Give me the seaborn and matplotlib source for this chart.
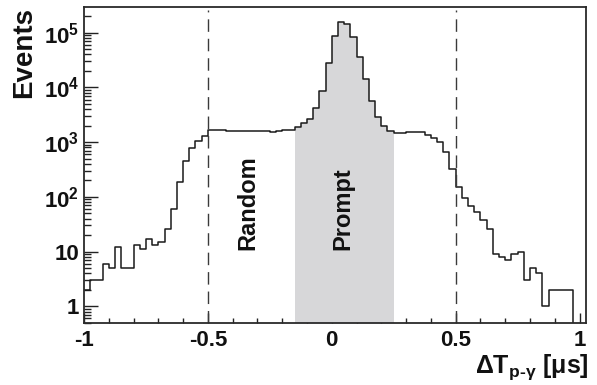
import numpy as np
import pandas as pd
import matplotlib
matplotlib.use("Agg")
import matplotlib.pyplot as plt
import seaborn as sns
from matplotlib.ticker import FixedLocator, FixedFormatter, MultipleLocator, LogLocator, NullFormatter

# ---------------- data ----------------
bin_edges = [round(v, 3) for v in np.linspace(-1.0, 1.0, 81)]   # 80 bins of 0.025 us
counts = [
    2, 3, 3, 6, 5, 12, 5, 5, 13, 11,
    17, 13, 15, 26, 59, 190, 460, 780, 1070, 1320,
    1660, 1640, 1680, 1610, 1570, 1590, 1590, 1610, 1570, 1630,
    1560, 1610, 1650, 1680, 1850, 2190, 2630, 4170, 8630, 27700,
    88000, 160000, 145000, 82000, 36000, 14300, 5740, 2860, 1990, 1610,
    1480, 1490, 1500, 1500, 1500, 1360, 1210, 1010, 650, 322,
    150, 95, 67, 52, 38, 26, 9, 8, 7, 9,
    10, 3, 5, 4, 1, 2, 2, 2, 2, 0,
]
prompt_window = [-0.15, 0.25]
cut_lines = [-0.5, 0.5]
x_ticks = [-1, -0.5, 0, 0.5, 1]
x_tick_labels = ["-1", "-0.5", "0", "0.5", "1"]
y_ticks = [1, 10, 100, 1000, 10000, 100000]
y_tick_labels = ["1", "10", r"$\mathregular{10^{2}}$", r"$\mathregular{10^{3}}$",
                 r"$\mathregular{10^{4}}$", r"$\mathregular{10^{5}}$"]
region_labels = ["Random", "Prompt"]
region_label_x = [-0.34, 0.045]
x_label = r"ΔT$_{\mathregular{p‐γ}}$ [μs]"
y_label = "Events"

# ---------------- style ----------------
sns.set_theme(style="ticks")
plt.rcParams["font.family"] = ["Liberation Sans", "DejaVu Sans"]
plt.rcParams.update({
    "font.weight": "bold",
    "axes.unicode_minus": False,
    "mathtext.fontset": "custom",
    "mathtext.rm": "Liberation Sans:bold",
    "mathtext.bf": "Liberation Sans:bold",
    "mathtext.it": "Liberation Sans:bold",
    "mathtext.sf": "Liberation Sans:bold",
})

edges_arr = np.array(bin_edges)
centers = (edges_arr[:-1] + edges_arr[1:]) / 2
df = pd.DataFrame({"dt": centers, "n": counts})
in_prompt = (centers > prompt_window[0]) & (centers < prompt_window[1])
prompt_edges = [e for e in bin_edges if prompt_window[0] - 1e-9 <= e <= prompt_window[1] + 1e-9]

fig = plt.figure(figsize=(5.97, 3.85), dpi=100)
ax = fig.add_axes([84 / 597, 1 - 322.7 / 385, (585.7 - 84) / 597, (322.7 - 7) / 385])

sns.histplot(data=df[in_prompt], x="dt", weights="n", bins=prompt_edges,
             element="step", fill=True, color="#d7d7d9", alpha=1, linewidth=0, ax=ax)
sns.histplot(data=df, x="dt", weights="n", bins=bin_edges,
             element="step", fill=False, color="#1a1a1a", linewidth=1.1, ax=ax)
ax.set_yscale("log")
ax.set_xlim(-1.0, 1.025)
ax.set_ylim(0.5, 2.95e5)

for xc in cut_lines:
    ax.axvline(xc, ymin=0, ymax=0.99, color="#3a3a3a", lw=1.0, dashes=(9, 5))

for lbl, xl in zip(region_labels, region_label_x):
    ax.text(xl, 10.8, lbl, rotation=90, ha="center", va="bottom",
            fontsize=17, fontweight="bold", color="#111111")

# ticks
ax.xaxis.set_major_locator(FixedLocator(x_ticks))
ax.xaxis.set_major_formatter(FixedFormatter(x_tick_labels))
ax.xaxis.set_minor_locator(MultipleLocator(0.1))
ax.yaxis.set_major_locator(FixedLocator(y_ticks))
ax.yaxis.set_major_formatter(FixedFormatter(y_tick_labels))
ax.yaxis.set_minor_locator(LogLocator(base=10, subs=np.arange(2, 10), numticks=20))
ax.yaxis.set_minor_formatter(NullFormatter())

ax.tick_params(axis="both", which="both", direction="in", color="#222222", width=1.0,
               labelsize=16, labelcolor="#111111")
ax.tick_params(axis="y", which="major", length=10, pad=3.5)
ax.tick_params(axis="y", which="minor", length=5)
ax.tick_params(axis="x", which="major", length=7, pad=5.5)
ax.tick_params(axis="x", which="minor", length=3.6)
for t in ax.get_xticklabels() + ax.get_yticklabels():
    t.set_fontweight("bold")

for sp in ax.spines.values():
    sp.set_visible(True)
    sp.set_linewidth(1.3)
    sp.set_color("#2a2a2a")

ax.set_xlabel("")
ax.set_ylabel("")
fig.text(24 / 597, 1 - 52.5 / 385, y_label, rotation=90, ha="center", va="center",
         fontsize=20, fontweight="bold", color="#111111")
fig.text(589 / 597, 1 - 373 / 385, x_label, ha="right", va="baseline",
         fontsize=18, fontweight="bold", color="#111111")

fig.savefig("out.png", dpi=100)
